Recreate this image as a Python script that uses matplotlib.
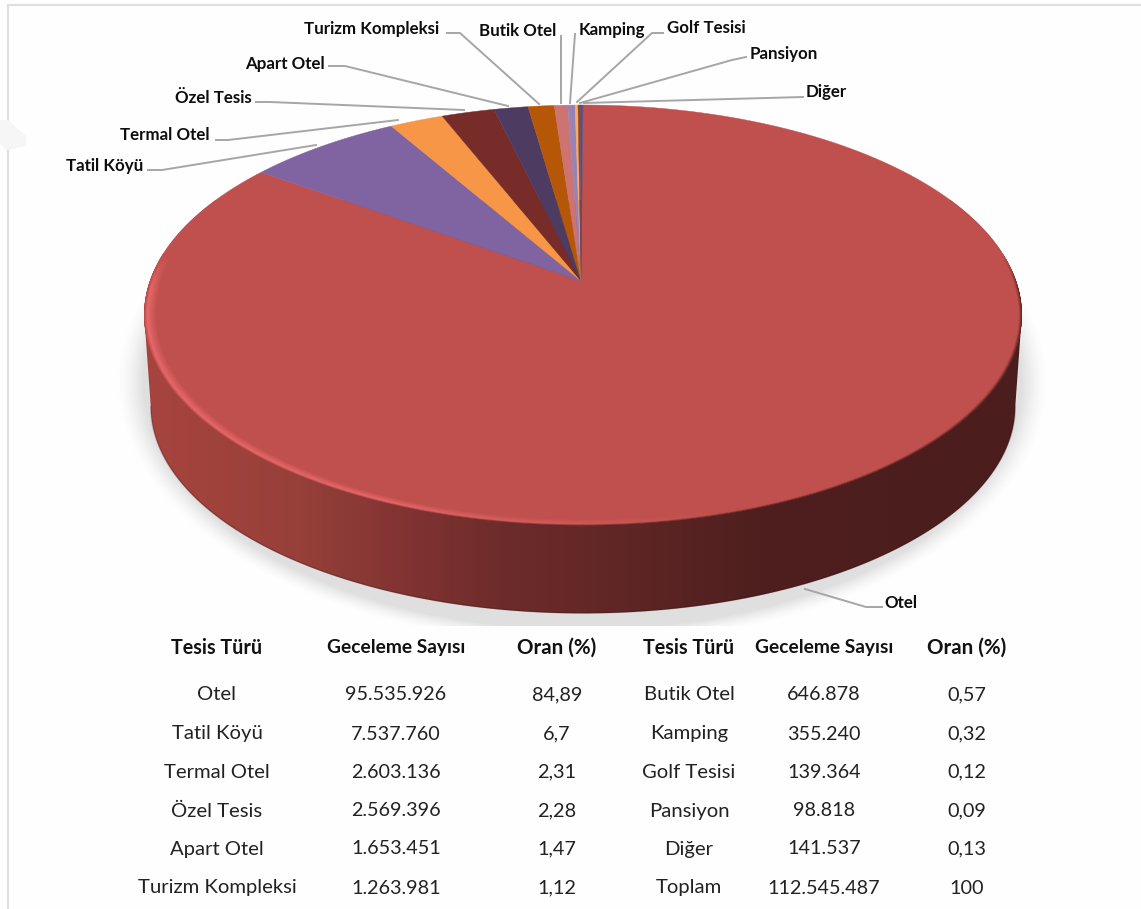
import numpy as np
import matplotlib
matplotlib.use('Agg')
import matplotlib.pyplot as plt
from matplotlib.collections import LineCollection
from matplotlib.colors import LinearSegmentedColormap, to_rgb
from matplotlib.patches import Polygon

plt.rcParams['font.family'] = ['Lato', 'DejaVu Sans']

# Data
tesis = ['Otel', 'Tatil Köyü', 'Termal Otel', 'Özel Tesis', 'Apart Otel', 'Turizm Kompleksi',
         'Butik Otel', 'Kamping', 'Golf Tesisi', 'Pansiyon', 'Diğer']
geceleme = [95535926, 7537760, 2603136, 2569396, 1653451, 1263981,
            646878, 355240, 139364, 98818, 141537]
geceleme_txt = ['95.535.926', '7.537.760', '2.603.136', '2.569.396', '1.653.451', '1.263.981',
                '646.878', '355.240', '139.364', '98.818', '141.537']
oran_txt = ['84,89', '6,7', '2,31', '2,28', '1,47', '1,12',
            '0,57', '0,32', '0,12', '0,09', '0,13']
toplam = ['Toplam', '112.545.487', '100']
basliklar = ['Tesis Türü', 'Geceleme Sayısı', 'Oran (%)']

# Styles
renkler = ['#C0504D', '#8064A2', '#F79646', '#772C2A', '#4D3B62', '#B65708',
           '#CD7371', '#9983B5', '#F9AB6B', '#974706', '#604A7B']

# label position (px), leader line (px)
etiket_xy = [(884, 603), (66, 166), (120, 135), (175, 98), (245, 64), (304, 29),
             (479, 31), (579, 30), (667, 28), (750, 54), (806, 92)]
cizgiler = [[(882, 607), (866, 607), (805, 589)],
            [(148, 170), (162, 170), (316, 145)],
            [(216, 140), (228, 140), (398, 120)],
            [(256, 102), (270, 102), (464, 110)],
            [(329, 66), (345, 66), (508, 106)],
            [(447, 33), (460, 33), (539, 104)],
            [(561, 36), (561, 103)],
            [(575, 34), (570, 103)],
            [(663, 33), (652, 33), (577, 102)],
            [(746, 57), (732, 60), (580, 103)],
            [(803, 97), (584, 103)]]

W, H = 1141, 909
fig = plt.figure(figsize=(W / 100, H / 100), dpi=100, facecolor='#fefefe')
ax = fig.add_axes([0, 0, 1, 1])
ax.axis('off')

# pie geometry in pixels, seen in perspective
ax_apex, cy = 581, 281
cx = 583
R, S, p = 433, 204.5, 0.162
derinlik = 92
ust_renk = np.array(to_rgb('#C0504D'))
parlak = np.array(to_rgb('#E8686A'))


def nokta(t, k=1.0, dy=0):
    # t is clockwise angle from the top of the pie
    yy = -np.cos(t)
    d = 1 - p * yy
    return cx + k * R * np.sin(t) / d, cy + dy + k * S * yy / d


# shadow, cut off by the table box
gx, gy = np.meshgrid(np.arange(W), np.arange(H))
dist = np.sqrt(((gx - 582) / 448) ** 2 + ((gy - 382) / 252) ** 2)
golge = np.clip((1.04 - dist) / 0.06, 0, 1) ** 1.5 * 0.22
golge[gy > 625] = 0
rgba = np.zeros((H, W, 4))
rgba[..., :3] = 0.45
rgba[..., 3] = golge
ax.imshow(rgba, extent=(0, W, H, 0), aspect='auto', zorder=1)

# side wall
tt = np.linspace(0, 2 * np.pi, 721)
ux, uy = nokta(tt)
i_sol, i_sag = np.argmin(ux), np.argmax(ux)
alt_t = np.linspace(tt[i_sag], tt[i_sol], 400)
ust_t = np.linspace(tt[i_sol], tt[i_sag] + 2 * np.pi, 400)
alt_x, alt_y = nokta(alt_t, 0.985, derinlik)
ust_x, ust_y = nokta(ust_t)
yan = Polygon(np.c_[np.r_[ust_x, alt_x], np.r_[ust_y, alt_y]], closed=True, fc='none', ec='none')
ax.add_patch(yan)
yan_x = np.array([144, 300, 400, 500, 650, 760, 1022])
yan_c = ['#a8443f', '#964039', '#823432', '#6d2c2b', '#5c2524', '#4e1f1e', '#4b1d1d']
yan_cmap = LinearSegmentedColormap.from_list('yan', list(zip((yan_x - 144) / 878, yan_c)))
im = ax.imshow(np.linspace(0, 1, 512)[None, :], cmap=yan_cmap, extent=(144, 1022, 620, 200),
               aspect='auto', zorder=2)
im.set_clip_path(yan)
ax.plot(alt_x, alt_y - 0.5, color='#3a1514', lw=1.2, alpha=0.25, zorder=2)

# slices, clockwise from the top
sinirlar = np.r_[0, np.cumsum(geceleme)] / np.sum(geceleme) * 2 * np.pi
for a, b, c in zip(sinirlar[:-1], sinirlar[1:], renkler):
    t = np.linspace(a, b, max(3, int((b - a) * 120)))
    x, y = nokta(t)
    ax.add_patch(Polygon(np.r_[[(ax_apex, cy)], np.c_[x, y]], closed=True, fc=c, ec=c, lw=0.3, zorder=3))

# soft bevel along the near edge of the top, kept inside the top ellipse
ust_elips = Polygon(np.c_[ux, uy], closed=True, fc='none', ec='none')
ax.add_patch(ust_elips)
t = np.linspace(tt[i_sag] - 0.3, tt[i_sol] + 0.3, 700)
s = np.linspace(0, 1, len(t) - 1)
w_parlak = np.clip((s - 0.42) / 0.2, 0, 1)[:, None]
uc = np.clip(np.minimum(s, 1 - s) / 0.05, 0, 1)[:, None]
for u in np.linspace(0, 1, 20):
    x, y = nokta(t, 1 - 0.03 * u)
    seg = np.stack([np.c_[x[:-1], y[:-1]], np.c_[x[1:], y[1:]]], axis=1)
    kenar = yan_cmap(np.clip((x[:-1] - 144) / 878, 0, 1))[:, :3]
    par = ust_renk + (parlak - ust_renk) * w_parlak
    if u < 0.3:
        renk = kenar + (par - kenar) * (u / 0.3)
    else:
        renk = par + (ust_renk - par) * ((u - 0.3) / 0.7)
    renk = ust_renk + (renk - ust_renk) * uc
    lc = LineCollection(seg, colors=renk, linewidths=1.5, zorder=4, capstyle='round')
    ax.add_collection(lc)
    lc.set_clip_path(ust_elips)

# labels and leader lines
for ad, xy, c in zip(tesis, etiket_xy, cizgiler):
    c = np.array(c)
    ax.plot(c[:, 0], c[:, 1], color='#a6a6a6', lw=1.4, zorder=5, solid_joinstyle='miter')
    ax.text(xy[0], xy[1], ad, fontsize=12.2, fontweight='bold', color='#0d0d0d', va='center', ha='left', zorder=6)

# table
sutun_x = [217, 396, 557, 689, 824, 967]
satir_y = [695, 734, 772, 811, 849, 888]
baslik_y = 648
baslik_boy = [14.2, 13.8, 14.8]
hucre_boy = [14.6, 14.2, 14.3]
for i in range(2):
    for j, b in enumerate(basliklar):
        ax.text(sutun_x[i * 3 + j], baslik_y, b, fontsize=baslik_boy[j], fontweight='bold',
                color='#111111', ha='center', va='center', zorder=6)
for i, y in enumerate(satir_y):
    sol = (tesis[i], geceleme_txt[i], oran_txt[i])
    sag = (tesis[i + 6], geceleme_txt[i + 6], oran_txt[i + 6]) if i < 5 else toplam
    for j, s_txt in enumerate(sol + tuple(sag)):
        ax.text(sutun_x[j], y, s_txt, fontsize=hucre_boy[j % 3], color='#222222', ha='center', va='center', zorder=6)

# page frame and the faint mark behind it
ax.plot([W, 8, 8], [5, 5, H], color='#e0e0e0', lw=1.6, zorder=0)
ax.add_patch(Polygon([(0, 120), (8, 120), (26, 136), (26, 146), (8, 150), (0, 144)],
                     closed=True, fc='#f6f6f6', ec='none', zorder=0))

ax.set_xlim(0, W)
ax.set_ylim(H, 0)
fig.savefig('out.png', dpi=100, facecolor=fig.get_facecolor())
